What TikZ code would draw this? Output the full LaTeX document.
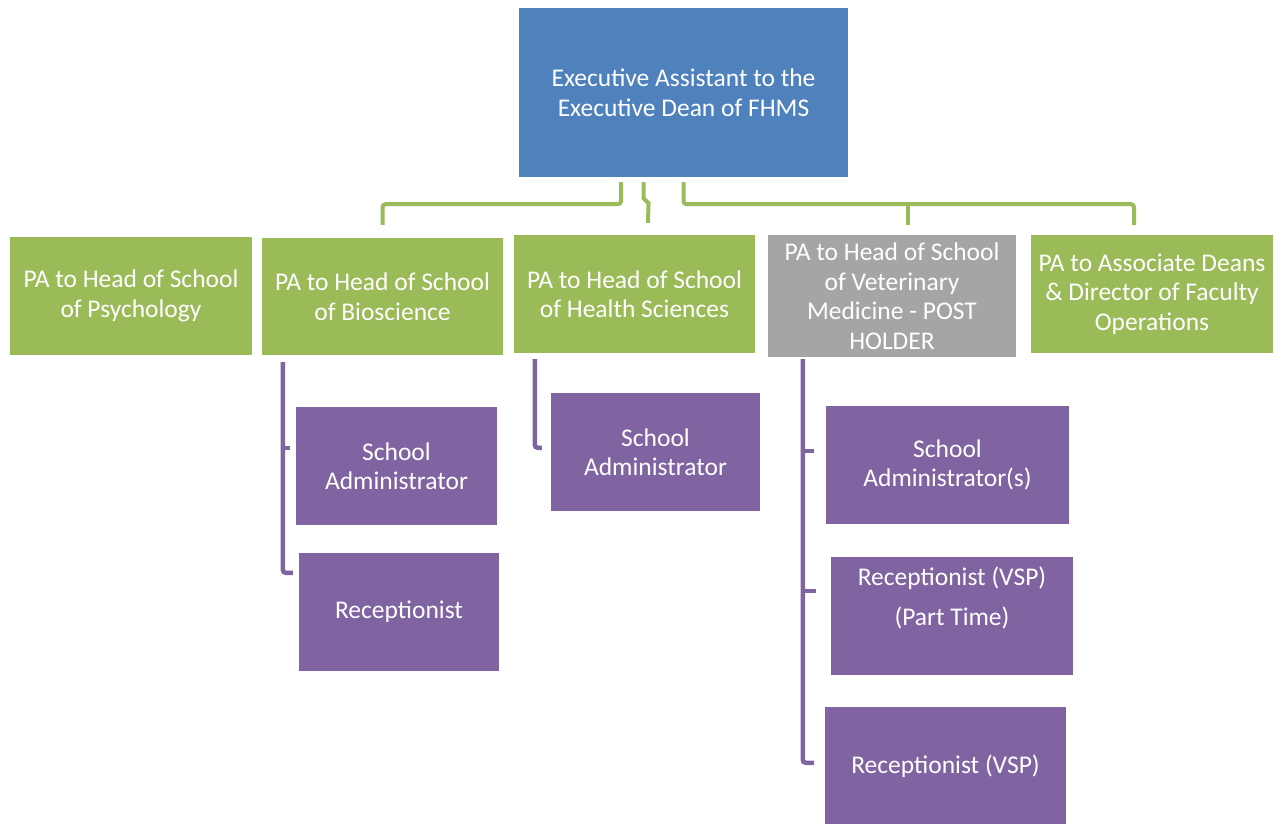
\documentclass[tikz,border=0pt]{standalone}
\usepackage{fontspec}
\setmainfont{Carlito}
\usetikzlibrary{calc}
\definecolor{deanblue}{HTML}{4F81BD}
\definecolor{pagreen}{HTML}{9BBB59}
\definecolor{postgray}{HTML}{A5A5A5}
\definecolor{staffpurple}{HTML}{8064A2}

\begin{document}
\begin{tikzpicture}[x=1pt, y=-1pt,
	box/.style={inner sep=0pt, text=white, align=center, font=\fontsize{25.5}{29.5}\selectfont},
	greenbox/.style={box, fill=pagreen, minimum width=242pt, minimum height=118pt},
	purplebox/.style={box, fill=staffpurple, minimum height=118pt},
	gline/.style={draw=pagreen, line width=4pt, rounded corners=3pt},
	pline/.style={draw=staffpurple, line width=4.5pt, rounded corners=3pt}]
			%%%%% START %%%%%
			
			\useasboundingbox (0, 0) rectangle (1287, 824);
			
			\node[box, fill=deanblue, minimum width=329pt, minimum height=169pt] (exec) at (683.5, 92.5) {Executive Assistant to the\\Executive Dean of FHMS};
			
			\node[greenbox] (psych) at (131, 296) {PA to Head of School\\of Psychology};
			\node[greenbox, minimum width=241pt, minimum height=117pt] (bio) at (382.5, 296.5) {PA to Head of School\\of Bioscience};
			\node[greenbox, minimum width=241pt] (health) at (634.5, 294) {PA to Head of School\\of Health Sciences};
			\node[box, fill=postgray, minimum width=248pt, minimum height=122pt] (vet) at (892, 296) {PA to Head of School\\of Veterinary\\Medicine - POST\\HOLDER};
			\node[greenbox] (assoc) at (1152, 294) {PA to Associate Deans\\\& Director of Faculty\\Operations};
			
			\node[purplebox, minimum width=201pt] (admin1) at (396.5, 466) {School\\Administrator};
			\node[purplebox, minimum width=200pt] (recept1) at (399, 612) {Receptionist};
			
			\node[purplebox, minimum width=209pt] (admin2) at (655.5, 452) {School\\Administrator};
			
			\node[purplebox, minimum width=243pt] (admin3) at (947.5, 465) {School\\Administrator(s)};
			\node[purplebox, minimum width=242pt] (recept2) at (952, 616) {Receptionist (VSP)\\[10.5pt](Part Time)\\[10.5pt]~};
			\node[purplebox, minimum width=241pt] (recept3) at (945.5, 766) {Receptionist (VSP)};
			
			% green connectors
			\draw[gline] ($(exec.south)+(-62.5, 5)$) -- ++(0, 22) -| ($(bio.north)+(0, -13)$);
			\draw[gline, rounded corners=0pt] ($(exec.south)+(-40, 5)$) -- ++(0, 16) -- ++(5, 5) -- ($(health.north)+(13.5, -12)$);
			\draw[gline] ($(exec.south)+(0, 5)$) -- ++(0, 22) -| ($(assoc.north)+(-18, -10)$);
			\draw[gline] ($(vet.north)+(16, -10)$) -- ++(0, -21);
			
			% purple connectors
			\draw[pline] ($(bio.south west)+(21, 7)$) |- ($(recept1.north west)+(-6, 20)$);
			\draw[pline] ($(admin1.north west)+(-13, 41)$) -- ++(7, 0);
			
			\draw[pline] ($(health.south west)+(21, 6)$) |- ($(admin2.north west)+(-9, 55)$);
			
			\draw[pline] ($(vet.south west)+(35, 2)$) |- ($(recept3.north west)+(-11, 56)$);
			\draw[pline] ($(admin3.north west)+(-23, 45)$) -- ++(11, 0);
			\draw[pline] ($(recept2.north west)+(-28, 34)$) -- ++(13, 0);
			
			%%%%% END %%%%%
\end{tikzpicture}
\end{document}
